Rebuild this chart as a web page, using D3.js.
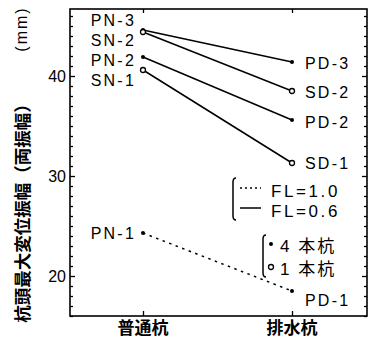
<!DOCTYPE html>
<html>
<head>
<meta charset="utf-8">
<script src="https://cdn.jsdelivr.net/npm/d3@7"></script>
<style>
  html, body { margin: 0; padding: 0; background: #fff; }
  svg { display: block; }
  .lat { font-family: "Liberation Sans", Arial, "Noto Sans CJK JP", sans-serif; fill: #000; }
  .cjk { font-family: "Noto Sans CJK JP", "Liberation Sans", sans-serif; fill: #000; }
</style>
</head>
<body>
<script>
// Pile groups on the x axis
const categories = ["普通杭", "排水杭"];
// Series names at each end of the connecting lines
const normalNames = ["PN-3", "SN-2", "PN-2", "SN-1", "PN-1"];
const drainNames  = ["PD-3", "SD-2", "PD-2", "SD-1", "PD-1"];
// Maximum pile-head displacement amplitude (mm)
const normalValues = [44.6, 44.4, 41.9, 40.6, 24.3];
const drainValues  = [41.4, 38.5, 35.6, 31.3, 18.5];
// Number of piles (4 = filled dot, 1 = open circle) and FL value (1.0 dotted, 0.6 solid)
const pileCounts = [4, 1, 4, 1, 4];
const flValues   = [0.6, 0.6, 0.6, 0.6, 1.0];
// Axis ticks
const yMajorTicks = [20, 30, 40];
const yDomain = [16, 46.7];

// Label nudges (px) so the names do not collide
const leftLabelDy  = [-10, 8, 3, 10, 0];
const rightLabelDy = [1, 1, 2, 0, 9];

const W = 369, H = 339;
const frame = { left: 70, right: 367, top: 9, bottom: 316 };

const svg = d3.select("body").append("svg")
  .attr("width", W).attr("height", H);

const x = d3.scalePoint().domain(categories).range([143, 292]);
const y = d3.scaleLinear().domain(yDomain).range([frame.bottom, frame.top]);

// Frame
svg.append("rect")
  .attr("x", frame.left).attr("y", frame.top)
  .attr("width", frame.right - frame.left).attr("height", frame.bottom - frame.top)
  .attr("fill", "none").attr("stroke", "#000").attr("stroke-width", 1.6);

const minorTicks = d3.range(Math.ceil(yDomain[0]), Math.floor(yDomain[1]) + 1)
  .filter(v => !yMajorTicks.includes(v));

// Left axis: inward ticks, labels outside
const leftAxis = d3.axisRight(y).tickValues(yMajorTicks).tickSize(5).tickFormat("");
svg.append("g").attr("transform", `translate(${frame.left},0)`).call(leftAxis);
const leftMinor = d3.axisRight(y).tickValues(minorTicks).tickSize(3).tickFormat("");
svg.append("g").attr("transform", `translate(${frame.left},0)`).call(leftMinor);

// Right axis: inward ticks
const rightAxis = d3.axisLeft(y).tickValues(yMajorTicks).tickSize(5).tickFormat("");
svg.append("g").attr("transform", `translate(${frame.right},0)`).call(rightAxis);
const rightMinor = d3.axisLeft(y).tickValues(minorTicks).tickSize(3).tickFormat("");
svg.append("g").attr("transform", `translate(${frame.right},0)`).call(rightMinor);

// Top and bottom axes: inward ticks at the categories
svg.append("g").attr("transform", `translate(0,${frame.top})`)
  .call(d3.axisBottom(x).tickSize(4).tickFormat(""));
svg.append("g").attr("transform", `translate(0,${frame.bottom})`)
  .call(d3.axisTop(x).tickSize(5).tickFormat(""));

svg.selectAll(".domain").remove();
svg.selectAll(".tick line").attr("stroke", "#000").attr("stroke-width", 1.3);

// Y tick labels
svg.append("g").selectAll("text").data(yMajorTicks).join("text")
  .attr("class", "lat")
  .attr("x", 66).attr("y", d => y(d) + 6)
  .attr("text-anchor", "end")
  .attr("font-size", 16)
  .text(d => d);

// Category labels
svg.append("g").selectAll("text").data(categories).join("text")
  .attr("class", "cjk")
  .attr("x", d => x(d)).attr("y", 334)
  .attr("text-anchor", "middle")
  .attr("font-size", 17).attr("font-weight", "bold")
  .text(d => d);

// Y axis title
svg.append("text").attr("class", "cjk")
  .attr("transform", "translate(21,209) rotate(-90)")
  .attr("text-anchor", "middle").attr("dominant-baseline", "central")
  .attr("font-size", 17.5).attr("font-weight", "bold")
  .text("杭頭最大変位振幅（両振幅）");
svg.append("text").attr("class", "lat")
  .attr("transform", "translate(21,29) rotate(-90)")
  .attr("text-anchor", "middle").attr("dominant-baseline", "central")
  .attr("font-size", 16).attr("letter-spacing", 2)
  .text("(mm)");

// Connecting lines
const rows = normalNames.map((n, i) => ({
  left: n, right: drainNames[i],
  v0: normalValues[i], v1: drainValues[i],
  piles: pileCounts[i], fl: flValues[i], i
}));

svg.append("g").selectAll("line").data(rows).join("line")
  .attr("x1", x(categories[0])).attr("y1", d => y(d.v0))
  .attr("x2", x(categories[1])).attr("y2", d => y(d.v1))
  .attr("stroke", "#000").attr("stroke-width", 1.5)
  .attr("stroke-dasharray", d => d.fl === 1.0 ? "2.5,4.5" : null);

// Markers
function drawMarker(g, cx, cy, piles) {
  if (piles === 4) {
    g.append("circle").attr("cx", cx).attr("cy", cy).attr("r", 2)
      .attr("fill", "#000");
  } else {
    g.append("circle").attr("cx", cx).attr("cy", cy).attr("r", 2.5)
      .attr("fill", "#fff").attr("stroke", "#000").attr("stroke-width", 1.3);
  }
}
const gm = svg.append("g");
rows.forEach(d => {
  drawMarker(gm, x(categories[0]), y(d.v0), d.piles);
  drawMarker(gm, x(categories[1]), y(d.v1), d.piles);
});

// Series labels
svg.append("g").selectAll("text").data(rows).join("text")
  .attr("class", "lat")
  .attr("x", 136).attr("y", d => y(d.v0) + leftLabelDy[d.i] + 5.8)
  .attr("text-anchor", "end").attr("font-size", 16).attr("letter-spacing", 2.2)
  .text(d => d.left);
svg.append("g").selectAll("text").data(rows).join("text")
  .attr("class", "lat")
  .attr("x", 305).attr("y", d => y(d.v1) + rightLabelDy[d.i] + 5.8)
  .attr("text-anchor", "start").attr("font-size", 16).attr("letter-spacing", 2.2)
  .text(d => d.right);

// Legend: line style (FL)
function bracket(xb, y0, y1) {
  svg.append("path")
    .attr("d", `M${xb + 3},${y0} Q${xb},${y0} ${xb},${y0 + 4} L${xb},${y1 - 4} Q${xb},${y1} ${xb + 3},${y1}`)
    .attr("fill", "none").attr("stroke", "#000").attr("stroke-width", 1.5);
}
const flLegend = [1.0, 0.6];
bracket(233, 178, 220);
flLegend.forEach((v, k) => {
  const ly = 188 + k * 20;
  svg.append("line").attr("x1", 240).attr("x2", 261).attr("y1", ly).attr("y2", ly)
    .attr("stroke", "#000").attr("stroke-width", 1.5)
    .attr("stroke-dasharray", v === 1.0 ? "2,3" : null);
  svg.append("text").attr("class", "lat")
    .attr("x", 271).attr("y", ly + 8.5)
    .attr("font-size", 17).attr("letter-spacing", 2.6)
    .text(`FL=${v.toFixed(1)}`);
});

// Legend: marker (pile count)
const pileLegend = [4, 1];
bracket(263, 235, 277);
pileLegend.forEach((p, k) => {
  const ly = 244 + k * 23;
  drawMarker(svg, 271, ly, p);
  svg.append("text").attr("class", "lat")
    .attr("x", 280).attr("y", ly + 8)
    .attr("font-size", 17).attr("letter-spacing", 2)
    .text(`${p} 本杭`);
});
</script>
</body>
</html>
